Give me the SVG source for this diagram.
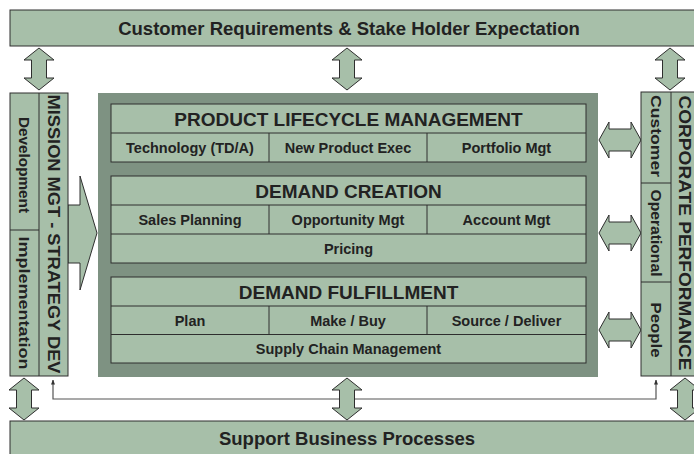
<svg xmlns="http://www.w3.org/2000/svg" width="694" height="454" viewBox="0 0 694 454">
<defs>
<style>
.bx{fill:#a7bfa9;stroke:#2e2e2e;stroke-width:1}
.ln{fill:none;stroke:#2e2e2e;stroke-width:1}
.pn{fill:#7e9282}
.ar{fill:#a7bfa9;stroke:#2e2e2e;stroke-width:1;stroke-linejoin:miter}
text{font-family:"Liberation Sans",Arial,sans-serif;font-weight:bold;fill:#222}
.t16{font-size:18.5px}
.t17{font-size:19px}
.t13{font-size:14.5px}
.v{font-size:15.5px}
.vb{font-size:17px}
.conn{fill:none;stroke:#555;stroke-width:1.2}
</style>
<marker id="ah" viewBox="0 0 10 10" refX="9" refY="5" markerWidth="5" markerHeight="6" orient="auto-start-reverse" markerUnits="userSpaceOnUse">
<path d="M0,1 L10,5 L0,9 z" fill="#333"/>
</marker>
</defs>

<g id="customer-requirements">
<rect class="bx" x="10" y="10" width="700" height="36"/>
<text class="t16" x="349" y="35" text-anchor="middle">Customer Requirements &amp; Stake Holder Expectation</text>
</g>

<g id="support-business">
<rect class="bx" x="10" y="421" width="700" height="50"/>
<text class="t16" x="347" y="445" text-anchor="middle">Support Business Processes</text>
</g>

<g id="connectors">
<path class="conn" d="M53,380 V399 H656 V380" marker-start="url(#ah)" marker-end="url(#ah)"/>
<polygon class="ar" points="39,48 54,60 46.5,60 46.5,78 54,78 39,90 24,78 31.5,78 31.5,60 24,60"/>
<polygon class="ar" points="347,48 362,60 354.5,60 354.5,78 362,78 347,90 332,78 339.5,78 339.5,60 332,60"/>
<polygon class="ar" points="670,48 685,60 677.5,60 677.5,78 685,78 670,90 655,78 662.5,78 662.5,60 655,60"/>
<polygon class="ar" points="24,378 39,390 31.5,390 31.5,408 39,408 24,420 9,408 16.5,408 16.5,390 9,390"/>
<polygon class="ar" points="347,378 362,390 354.5,390 354.5,408 362,408 347,420 332,408 339.5,408 339.5,390 332,390"/>
<polygon class="ar" points="685,378 700,390 692.5,390 692.5,408 700,408 685,420 670,408 677.5,408 677.5,390 670,390"/>
<polygon class="ar" points="599,140 609,122 609,129 631,129 631,122 641,140 631,158 631,151 609,151 609,158"/>
<polygon class="ar" points="599,233 609,215 609,222 631,222 631,215 641,233 631,251 631,244 609,244 609,251"/>
<polygon class="ar" points="599,330 609,312 609,319 631,319 631,312 641,330 631,348 631,341 609,341 609,348"/>
<polygon class="ar" points="68,205 80,205 80,176 97,233 80,290 80,263 68,263"/>
</g>

<g id="mission-mgt">
<rect class="bx" x="10" y="93" width="58" height="283"/>
<line class="ln" x1="39" y1="93" x2="39" y2="376"/>
<line class="ln" x1="10" y1="230" x2="39" y2="230"/>
<text class="vb" transform="translate(53.5,234) rotate(90)" text-anchor="middle" dominant-baseline="central" textLength="279" lengthAdjust="spacingAndGlyphs">MISSION MGT - STRATEGY DEV</text>
<text class="v" transform="translate(24.5,165) rotate(90)" text-anchor="middle" dominant-baseline="central" textLength="96" lengthAdjust="spacingAndGlyphs">Development</text>
<text class="v" transform="translate(24.5,303) rotate(90)" text-anchor="middle" dominant-baseline="central" textLength="133" lengthAdjust="spacingAndGlyphs">Implementation</text>
</g>

<g id="corporate-performance">
<rect class="bx" x="641" y="92" width="60" height="284"/>
<line class="ln" x1="671" y1="92" x2="671" y2="376"/>
<line class="ln" x1="641" y1="183" x2="671" y2="183"/>
<line class="ln" x1="641" y1="282" x2="671" y2="282"/>
<text class="vb" transform="translate(684,233) rotate(90)" text-anchor="middle" dominant-baseline="central" textLength="275" lengthAdjust="spacingAndGlyphs">CORPORATE PERFORMANCE</text>
<text class="v" transform="translate(656,136) rotate(90)" text-anchor="middle" dominant-baseline="central" textLength="82" lengthAdjust="spacingAndGlyphs">Customer</text>
<text class="v" transform="translate(656,233) rotate(90)" text-anchor="middle" dominant-baseline="central" textLength="87" lengthAdjust="spacingAndGlyphs">Operational</text>
<text class="v" transform="translate(656,330) rotate(90)" text-anchor="middle" dominant-baseline="central" textLength="55" lengthAdjust="spacingAndGlyphs">People</text>
</g>

<g id="core-panel">
<rect class="pn" x="98" y="93" width="500" height="284"/>
</g>

<g id="plm">
<rect class="bx" x="111" y="104" width="475" height="58"/>
<line class="ln" x1="111" y1="133" x2="586" y2="133"/>
<line class="ln" x1="269" y1="133" x2="269" y2="162"/>
<line class="ln" x1="427" y1="133" x2="427" y2="162"/>
<text class="t17" x="348.5" y="125.5" text-anchor="middle">PRODUCT LIFECYCLE MANAGEMENT</text>
<text class="t13" x="190" y="153" text-anchor="middle">Technology (TD/A)</text>
<text class="t13" x="348" y="153" text-anchor="middle">New Product Exec</text>
<text class="t13" x="506.5" y="153" text-anchor="middle">Portfolio Mgt</text>
</g>

<g id="demand-creation">
<rect class="bx" x="111" y="176" width="475" height="87"/>
<line class="ln" x1="111" y1="205" x2="586" y2="205"/>
<line class="ln" x1="111" y1="234" x2="586" y2="234"/>
<line class="ln" x1="269" y1="205" x2="269" y2="234"/>
<line class="ln" x1="427" y1="205" x2="427" y2="234"/>
<text class="t17" x="348.5" y="197.5" text-anchor="middle">DEMAND CREATION</text>
<text class="t13" x="190" y="225" text-anchor="middle">Sales Planning</text>
<text class="t13" x="348" y="225" text-anchor="middle">Opportunity Mgt</text>
<text class="t13" x="506.5" y="225" text-anchor="middle">Account Mgt</text>
<text class="t13" x="348.5" y="254" text-anchor="middle">Pricing</text>
</g>

<g id="demand-fulfillment">
<rect class="bx" x="111" y="277" width="475" height="86"/>
<line class="ln" x1="111" y1="306" x2="586" y2="306"/>
<line class="ln" x1="111" y1="334.5" x2="586" y2="334.5"/>
<line class="ln" x1="269" y1="306" x2="269" y2="334.5"/>
<line class="ln" x1="427" y1="306" x2="427" y2="334.5"/>
<text class="t17" x="348.5" y="298.5" text-anchor="middle">DEMAND FULFILLMENT</text>
<text class="t13" x="190" y="326" text-anchor="middle">Plan</text>
<text class="t13" x="348" y="326" text-anchor="middle">Make / Buy</text>
<text class="t13" x="506.5" y="326" text-anchor="middle">Source / Deliver</text>
<text class="t13" x="348.5" y="354" text-anchor="middle">Supply Chain Management</text>
</g>
</svg>
